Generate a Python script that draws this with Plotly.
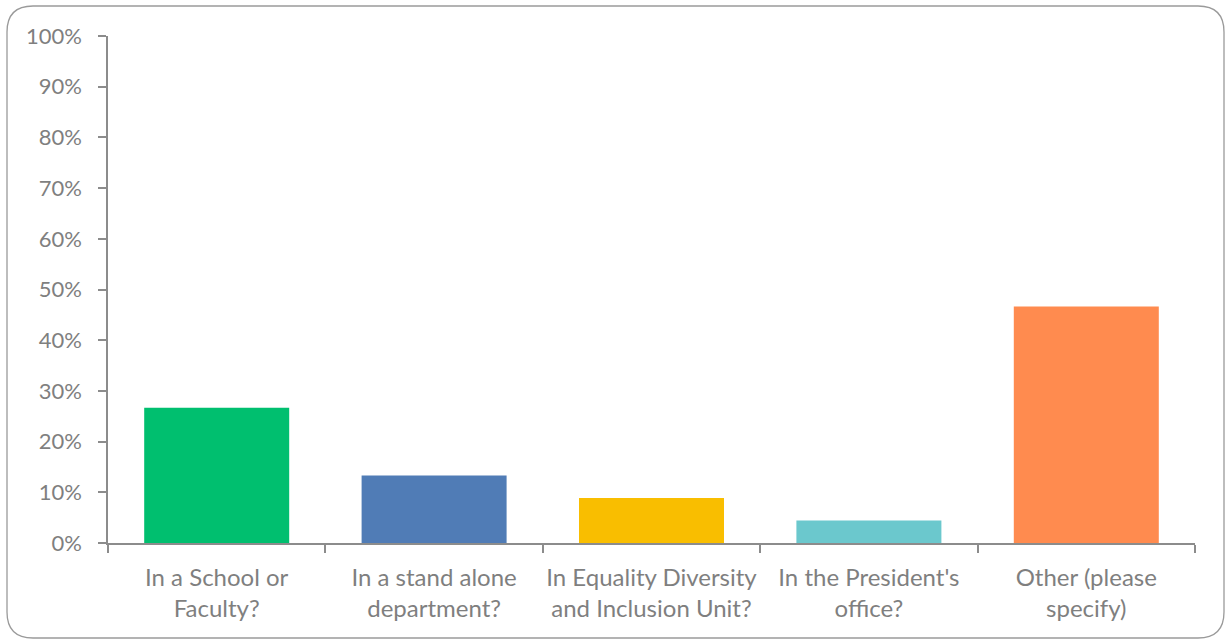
import plotly.graph_objects as go

categories = [
    "In a School or<br>Faculty?",
    "In a stand alone<br>department?",
    "In Equality Diversity<br>and Inclusion Unit?",
    "In the President's<br>office?",
    "Other (please<br>specify)",
]
shares = [26.67, 13.33, 8.89, 4.44, 46.67]
bar_colors = ["#00BF6F", "#507CB6", "#F9BE00", "#6BC8CD", "#FF8B4F"]
y_ticks = [0, 10, 20, 30, 40, 50, 60, 70, 80, 90, 100]
y_tick_labels = [f"{v}%" for v in y_ticks]

W, H = 1230, 642
L, R, T, B = 108, 35, 36, 99
axis_grey = "#8c8c8c"
text_grey = "#7f7f7f"

fig = go.Figure(
    go.Bar(
        x=categories,
        y=shares,
        marker=dict(color=bar_colors, line=dict(width=0)),
        hoverinfo="skip",
    )
)

# rounded frame around the whole chart, converted from pixels to paper units
pw, ph = W - L - R, H - T - B


def px(x):
    return (x - L) / pw


def py(y):
    return (H - B - y) / ph


x0, x1, y0, y1, r = 7, 1224, 6, 638, 26
path = (
    f"M {px(x0 + r)} {py(y0)} L {px(x1 - r)} {py(y0)} "
    f"Q {px(x1)} {py(y0)} {px(x1)} {py(y0 + r)} "
    f"L {px(x1)} {py(y1 - r)} "
    f"Q {px(x1)} {py(y1)} {px(x1 - r)} {py(y1)} "
    f"L {px(x0 + r)} {py(y1)} "
    f"Q {px(x0)} {py(y1)} {px(x0)} {py(y1 - r)} "
    f"L {px(x0)} {py(y0 + r)} "
    f"Q {px(x0)} {py(y0)} {px(x0 + r)} {py(y0)} Z"
)
fig.add_shape(type="path", path=path, xref="paper", yref="paper",
              line=dict(color="#9a9a9a", width=1.3), layer="below")

fig.update_layout(
    width=W,
    height=H,
    margin=dict(l=L, r=R, t=T, b=B),
    paper_bgcolor="white",
    plot_bgcolor="white",
    bargap=0.333,
    showlegend=False,
    font=dict(family="Lato, Open Sans, sans-serif", size=22, color=text_grey),
    xaxis=dict(
        showline=True,
        linecolor=axis_grey,
        linewidth=1.5,
        ticks="outside",
        tickson="boundaries",
        ticklen=8,
        tickcolor=axis_grey,
        tickwidth=1.5,
        showgrid=False,
        tickangle=0,
        automargin=False,
        ticklabelstandoff=12,
        tickfont=dict(size=24, color=text_grey),
    ),
    yaxis=dict(
        range=[0, 100],
        tickvals=y_ticks,
        ticktext=y_tick_labels,
        showline=True,
        linecolor=axis_grey,
        linewidth=1.5,
        ticks="outside",
        ticklen=8,
        tickcolor=axis_grey,
        tickwidth=1.5,
        showgrid=False,
        zeroline=False,
        automargin=False,
        ticklabelstandoff=12,
        tickfont=dict(size=22, color=text_grey),
    ),
)

fig.write_html("out.html")
